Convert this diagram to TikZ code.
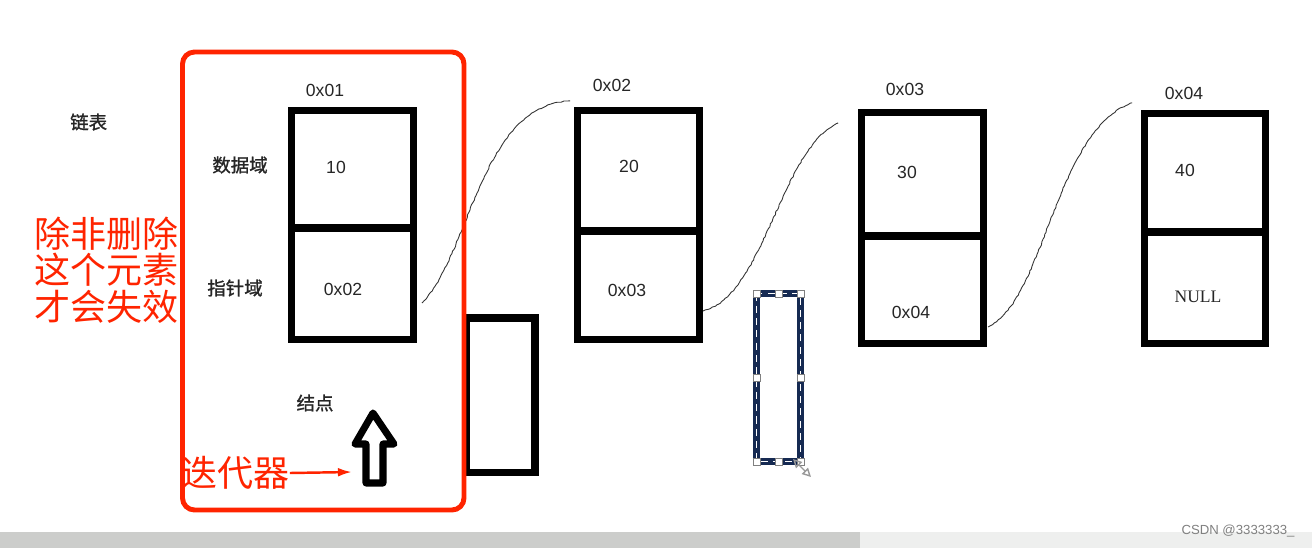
\documentclass[tikz,border=0pt]{standalone}
\usepackage{fontspec}
\setmainfont{Liberation Sans}
\newfontfamily\cjk{Noto Sans CJK SC}
\newfontfamily\cjklbl[FakeBold=1.2]{Noto Sans CJK SC}
\newfontfamily\serifnull{Liberation Serif}
\usetikzlibrary{arrows.meta,positioning,decorations.pathmorphing}
\definecolor{markred}{RGB}{255,36,0}
\definecolor{selnavy}{RGB}{22,42,82}
\definecolor{barA}{RGB}{204,205,203}
\definecolor{barB}{RGB}{238,239,238}

\begin{document}
\begin{tikzpicture}[x=0.02cm,y=-0.02cm,>=Latex,
  cell/.style={draw,line width=4pt,minimum width=2.44cm,inner sep=0pt,outer sep=0pt},
  addr/.style={font=\fontsize{10pt}{12pt}\selectfont,text=black!85},
  zh/.style={font=\cjklbl\fontsize{10.5pt}{12pt}\selectfont,text=black!85},
  note/.style={font=\cjk\fontsize{20.5pt}{20.8pt}\selectfont,text=markred,align=left,inner sep=0pt},
  wire/.style={line width=0.5pt,black!80,decorate,decoration={random steps,segment length=1.5pt,amplitude=0.3pt}}]
\pgfmathsetseed{7}
\useasboundingbox (0,0) rectangle (1312,548);

% bottom bar
\fill[barA] (0,532) rectangle (860,548);
\fill[barB] (860,532) rectangle (1312,548);

% list
\node[cell,minimum height=2.35cm] (n1d) at (352.5,169.25) {};
\node[cell,minimum height=2.23cm,below=0pt of n1d] (n1p) {};
\node[cell,minimum height=2.41cm] (n2d) at (638.5,170.75) {};
\node[cell,minimum height=2.17cm,below=0pt of n2d] (n2p) {};
\node[cell,minimum height=2.47cm] (n3d) at (922.5,174.25) {};
\node[cell,minimum height=2.15cm,below=0pt of n3d] (n3p) {};
\node[cell,minimum height=2.37cm,minimum width=2.42cm] (n4d) at (1205,172.75) {};
\node[cell,minimum height=2.23cm,minimum width=2.42cm,below=0pt of n4d] (n4p) {};

\node[addr] (a1) at (325,90) {0x01};
\node[addr] (v1) at (336,167) {10};
\node[addr] (p1) at (343,289) {0x02};
\node[addr] (a2) at (612,85) {0x02};
\node[addr] (v2) at (629,166) {20};
\node[addr] (p2) at (627,290) {0x03};
\node[addr] (a3) at (905,89) {0x03};
\node[addr] (v3) at (907,172) {30};
\node[addr] (p3) at (911,312) {0x04};
\node[addr] (a4) at (1184,93) {0x04};
\node[addr] (v4) at (1185,170) {40};
\node[addr,font=\serifnull\fontsize{10pt}{12pt}\selectfont] (p4) at (1198,297) {NULL};

\node[zh] (title) at (88.7,122) {链表};
\node[zh] (datalbl) at (240,165) {数据域};
\node[zh] (ptrlbl) at (235,288) {指针域};
\node[zh] (nodelbl) at (315,403) {结点};

% links
\coordinate (l1a) at (422,303);
\coordinate (l1b) at (570,101);
\coordinate (l2a) at (703,311);
\coordinate (l2b) at (838,123);
\coordinate (l3a) at (988,327);
\coordinate (l3b) at (1132,103);
\draw[wire] (l1a) .. controls (470,255) and (480,105) .. (l1b);
\draw[wire] (l2a) .. controls (765,295) and (780,150) .. (l2b);
\draw[wire] (l3a) .. controls (1045,300) and (1055,130) .. (l3b);

% new box
\draw[line width=4pt] (466,318) rectangle (535,472.5);

% selected box
\draw[selnavy,line width=3.8pt] (756.5,293.5) rectangle (800.5,461.5);
\draw[white,line width=0.8pt,dash pattern=on 4pt off 3pt] (756.5,293.5) rectangle (800.5,461.5);
\foreach \hx/\hy in {756.5/293.5,778.5/293.5,800.5/293.5,756.5/377.5,800.5/377.5,756.5/461.5,778.5/461.5,800.5/461.5}
  \draw[gray,fill=white,line width=0.4pt] (\hx-3.5,\hy-3.5) rectangle (\hx+3.5,\hy+3.5);
\draw[gray!80,line width=0.8pt,{Triangle[open,length=5pt,width=5pt]}-{Triangle[open,length=5pt,width=5pt]}] (793,459) -- (811,477);

% iterator
\draw[line width=4pt,line join=round] (373,413) -- (394,444) -- (383,444) -- (383,483) -- (366,483) -- (366,444) -- (355,444) -- cycle;
\coordinate (itip) at (352,472);
\draw[markred,line width=2.8pt,rounded corners=0.24cm] (182.5,52) rectangle (464,510);
\node[note] (why) at (106.5,270) {除非删除\\这个元素\\才会失效};
\node[note] (iter) at (235.5,473) {迭代器};
\draw[->,markred,line width=1.4pt,-{Latex[length=8pt,width=5pt]}] (iter.east) -- (itip);

\node[font=\fontsize{7.5pt}{9pt}\selectfont,text=gray] (mark) at (1238,531) {CSDN @3333333\_};
\end{tikzpicture}
\end{document}
